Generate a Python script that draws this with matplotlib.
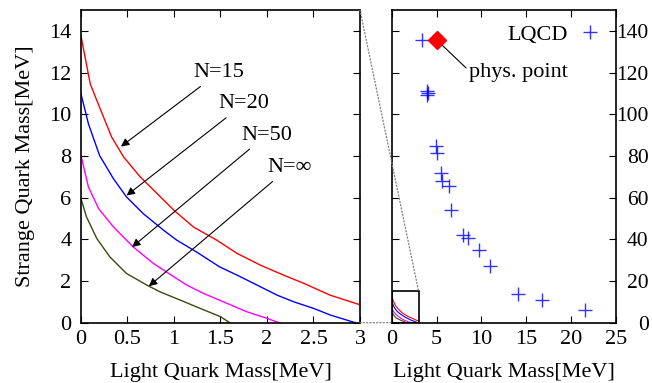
import numpy as np
import matplotlib
matplotlib.use("Agg")
import matplotlib.pyplot as plt
from matplotlib.patches import Rectangle, ConnectionPatch

plt.rcParams['font.family'] = ['Liberation Serif', 'DejaVu Serif']
plt.rcParams['font.size'] = 16

# boundary curves for N = 15, 20, 50, inf
x_n15 = [0, 0.1, 0.2, 0.33, 0.46, 0.64, 0.82, 1.0, 1.21, 1.46, 1.68, 1.93, 2.18, 2.4, 2.68, 3.0]
y_n15 = [13.75, 11.45, 10.33, 8.9, 7.94, 6.98, 6.19, 5.39, 4.59, 3.96, 3.32, 2.76, 2.28, 1.88, 1.32, 0.86]
x_n20 = [0, 0.08, 0.2, 0.35, 0.49, 0.67, 0.89, 1.03, 1.24, 1.49, 1.68, 1.86, 2.11, 2.29, 2.5, 2.68, 2.95]
y_n20 = [10.97, 9.54, 8.02, 6.9, 6.03, 5.23, 4.43, 3.96, 3.4, 2.68, 2.28, 1.88, 1.32, 1.0, 0.69, 0.37, 0.0]
x_n50 = [0, 0.08, 0.19, 0.35, 0.56, 0.78, 1.0, 1.14, 1.32, 1.57, 1.78, 2.0, 2.13]
y_n50 = [8.02, 6.51, 5.47, 4.59, 3.64, 2.84, 2.2, 1.8, 1.4, 0.93, 0.53, 0.21, 0.0]
x_ninf = [0, 0.06, 0.17, 0.31, 0.49, 0.71, 0.85, 1.07, 1.28, 1.5, 1.6]
y_ninf = [5.95, 5.07, 4.04, 3.16, 2.36, 1.8, 1.48, 1.08, 0.69, 0.29, 0.0]

curve_labels = ['N=15', 'N=20', 'N=50', 'N=\u221e']
curve_colors = ['#ff0000', '#0000ff', '#ff00ff', '#3a4a10']
label_pos = [(1.21, 12.0), (1.48, 10.5), (1.72, 9.0), (2.0, 7.45)]
arrow_tip = [(0.43, 8.45), (0.49, 6.1), (0.55, 3.63), (0.73, 1.75)]

# lattice QCD points
lqcd_x = [3.34, 3.89, 3.97, 4.0, 4.94, 5.09, 5.46, 5.57, 6.43, 6.58, 7.99, 8.47, 9.74, 10.96, 14.05, 16.73, 21.55]
lqcd_y = [135.7, 111.0, 109.0, 110.3, 85.0, 81.3, 71.8, 67.8, 65.4, 54.3, 41.9, 40.4, 34.8, 27.3, 14.0, 10.8, 6.1]
phys_x = [5.0]
phys_y = [135.7]

curves = [(x_n15, y_n15), (x_n20, y_n20), (x_n50, y_n50), (x_ninf, y_ninf)]

fig = plt.figure(figsize=(6.52, 3.83), dpi=100)
ax1 = fig.add_axes([0.1242, 0.1574, 0.4279, 0.8165])
ax2 = fig.add_axes([0.6008, 0.1574, 0.3440, 0.8165])

for (xs, ys), c in zip(curves, curve_colors):
    ax1.plot(xs, ys, color=c, lw=1.0)
    ax2.plot(xs, ys, color=c, lw=0.8)

for lab, pos, tip in zip(curve_labels, label_pos, arrow_tip):
    ax1.annotate(lab, xy=tip, xytext=pos, ha='left', va='center', fontsize=16,
                 arrowprops=dict(arrowstyle='-|>', color='black', lw=0.8,
                                 mutation_scale=12, shrinkA=2, shrinkB=0))

ax1.set_xlim(0, 3)
ax1.set_ylim(0, 15)
ax1.set_xticks(np.arange(0, 3.01, 0.5))
ax1.set_xticklabels(['0', '0.5', '1', '1.5', '2', '2.5', '3'])
ax1.set_yticks(np.arange(0, 15, 2))
ax1.set_xlabel('Light Quark Mass[MeV]', labelpad=10)
ax1.set_ylabel('Strange Quark Mass[MeV]', labelpad=10)

ax2.plot(lqcd_x, lqcd_y, ls='none', marker='+', ms=10, mew=1.0,
         color='#0000ff', alpha=0.8, label='LQCD')
ax2.plot(phys_x, phys_y, ls='none', marker='D', ms=9, color='#ff0000', zorder=5)
ax2.annotate('phys. point', xy=(phys_x[0], phys_y[0]), xytext=(8.6, 120),
             ha='left', va='center', fontsize=16,
             arrowprops=dict(arrowstyle='-', color='black', lw=0.8,
                             shrinkA=0, shrinkB=3, relpos=(0, 0.6)))
ax2.add_patch(Rectangle((0, 0), 3, 15, fill=False, edgecolor='black', lw=1.2, zorder=4))

ax2.set_xlim(0, 25)
ax2.set_ylim(0, 150)
ax2.set_xticks(np.arange(0, 26, 5))
ax2.set_yticks(np.arange(0, 141, 20))
ax2.yaxis.tick_right()
ax2.set_xlabel('Light Quark Mass[MeV]', labelpad=10)
ax2.legend(loc='upper right', frameon=False, markerfirst=False, handlelength=1.0,
           handletextpad=0.5, borderaxespad=0.25, fontsize=16)

for ax in (ax1, ax2):
    ax.tick_params(direction='in', top=True, bottom=True, left=True, right=True,
                   length=5, width=0.8, labelsize=16)
    for s in ax.spines.values():
        s.set_linewidth(1.2)
ax1.tick_params(axis='y', pad=7)
ax1.tick_params(axis='x', pad=5)
ax2.tick_params(axis='x', pad=5)
ax2.tick_params(axis='y', pad=23.5, labelsize=15.5, labelleft=False, labelright=True)
for t in ax2.get_yticklabels():
    t.set_horizontalalignment('right')

# zoom connectors
con1 = ConnectionPatch(xyA=(3, 15), coordsA=ax1.transData, xyB=(3, 15), coordsB=ax2.transData,
                       ls=':', color='gray', lw=0.9)
con2 = ConnectionPatch(xyA=(3, 0), coordsA=ax1.transData, xyB=(0, 0), coordsB=ax2.transData,
                       ls=':', color='gray', lw=0.9)
fig.add_artist(con1)
fig.add_artist(con2)

fig.savefig('out.png', dpi=100)
